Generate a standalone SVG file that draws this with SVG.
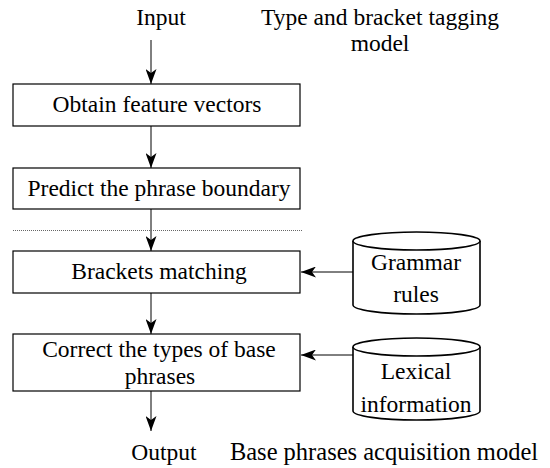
<svg xmlns="http://www.w3.org/2000/svg" width="550" height="468" viewBox="0 0 550 468">
<style>
text{font-family:"Liberation Serif","Times New Roman",serif;font-size:23.5px;fill:#000;text-anchor:middle}
.cap{font-size:24.5px}
.box{fill:#fff;stroke:#000;stroke-width:1.2}
.cyl{fill:#fff;stroke:#000;stroke-width:1.6}
.ln{stroke:#000;stroke-width:1;fill:none}
</style>
<defs>
<marker id="ah" viewBox="0 0 15 11" refX="15" refY="5.5" markerWidth="15" markerHeight="11" markerUnits="userSpaceOnUse" orient="auto">
<path d="M0,0 L15,5.5 L0,11 L4,5.5 Z" fill="#000"/>
</marker>
</defs>
<g id="labels">
<text x="161" y="25">Input</text>
<text x="380" y="25">Type and bracket tagging</text>
<text x="380" y="51">model</text>
<text x="164" y="460">Output</text>
<text class="cap" x="384" y="460">Base phrases acquisition model</text>
</g>
<g id="connectors">
<line class="ln" x1="151" y1="40" x2="151" y2="84" marker-end="url(#ah)"/>
<line class="ln" x1="151" y1="126" x2="151" y2="168" marker-end="url(#ah)"/>
<line class="ln" x1="151" y1="209" x2="151" y2="251" marker-end="url(#ah)"/>
<line class="ln" x1="151" y1="293" x2="151" y2="334" marker-end="url(#ah)"/>
<line class="ln" x1="151" y1="391" x2="151" y2="431" marker-end="url(#ah)"/>
<line class="ln" x1="353" y1="272" x2="301" y2="272" marker-end="url(#ah)"/>
<line class="ln" x1="353" y1="355" x2="301" y2="355" marker-end="url(#ah)"/>
<line x1="13" y1="230.5" x2="303" y2="230.5" stroke="#666" stroke-width="1" stroke-dasharray="1,1"/>
</g>
<g id="n1">
<rect class="box" x="13" y="84" width="287" height="42"/>
<text x="157" y="112">Obtain feature vectors</text>
</g>
<g id="n2">
<rect class="box" x="13" y="168" width="287" height="41"/>
<text x="159" y="196">Predict the phrase boundary</text>
</g>
<g id="n3">
<rect class="box" x="13" y="251" width="287" height="42"/>
<text x="159" y="279">Brackets matching</text>
</g>
<g id="n4">
<rect class="box" x="13" y="334" width="287" height="57"/>
<text x="159" y="357">Correct the types of base</text>
<text x="160" y="384">phrases</text>
</g>
<g id="db1">
<path class="cyl" d="M353,241 A63.5,9 0 0 1 480,241 L480,305 A63.5,9 0 0 1 353,305 Z"/>
<path class="cyl" d="M353,241 A63.5,9 0 0 0 480,241"/>
<text x="416" y="270">Grammar</text>
<text x="416" y="302">rules</text>
</g>
<g id="db2">
<path class="cyl" d="M353,347 A63.5,9 0 0 1 480,347 L480,411 A63.5,9 0 0 1 353,411 Z"/>
<path class="cyl" d="M353,347 A63.5,9 0 0 0 480,347"/>
<text x="416" y="379">Lexical</text>
<text x="416" y="412">information</text>
</g>
</svg>
